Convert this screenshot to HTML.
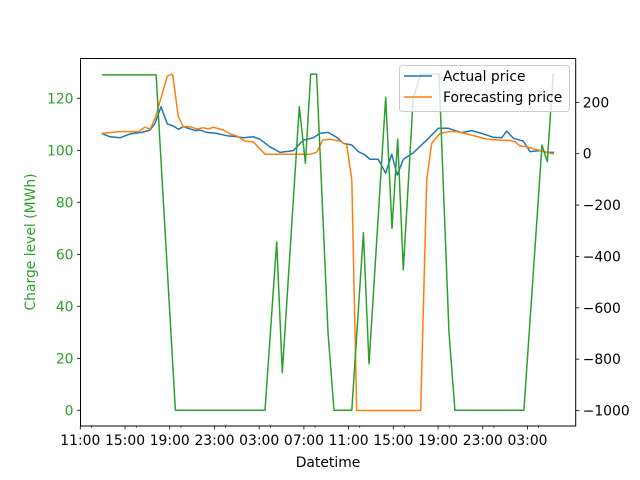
<!DOCTYPE html>
<html><head><meta charset="utf-8"><style>
body{margin:0;background:#fff;}
svg{display:block;font-family:"DejaVu Sans","Liberation Sans",sans-serif;}
</style></head><body>
<svg id="chart" width="640" height="480" viewBox="0 0 640 480">
<rect width="640" height="480" fill="#fff"/>
<g id="plot"></g>
</svg>
<script>
// hours since first 11:00 tick
const xTickLabels = ["11:00","15:00","19:00","23:00","03:00","07:00","11:00","15:00","19:00","23:00","03:00"];
const leftTicks = [0,20,40,60,80,100,120];
const rightTicks = [200,0,-200,-400,-600,-800,-1000];
const chargeTimes = [1.95,6.78,8.51,16.52,17.57,18.07,19.59,20.13,20.61,21.14,22.16,22.69,24.28,25.32,25.82,27.32,27.88,28.39,28.89,29.78,30.45,32.08,32.98,33.51,39.68,41.3,41.77,42.3];
const chargeValues = [129,129,0,0,64.8,14.5,116.8,95,129.3,129.3,30,0,0,68.3,17.8,120.4,70,104.3,54,120,129.3,129.3,30,0,0,102,95.6,129.6];
const actualTimes = [1.91,2.66,3.55,4.45,5.49,6.23,6.68,7.22,7.78,8.32,8.77,9.21,10.26,10.71,11.31,12.2,13.1,13.99,14.58,15.47,16.07,16.96,17.86,19.05,19.95,20.84,21.44,22.18,22.93,23.52,24.28,24.87,25.47,25.91,26.65,27.32,27.85,28.35,28.89,29.79,30.98,32.02,32.92,34.11,35.01,36.05,36.94,37.69,38.14,38.73,39.62,40.22,41.12,41.71,42.37];
const actualValues = [79,66,62,77,83,92,118,183,116,108,95,105,90,92,83,79,70,66,62,66,56,27,5,12,53,62,79,83,64,40,34,8,-5,-22,-22,-76,-2,-83,-22,4,53,99,99,82,90,77,64,62,88,60,49,8,12,5,5];
const forecastTimes = [1.91,2.66,3.52,5.19,5.79,6.24,6.69,7.78,8.26,8.77,9.21,9.81,10.41,11.0,11.45,11.9,12.79,13.39,13.99,14.73,15.47,16.52,20.55,21.14,21.68,22.33,23.23,23.83,24.28,24.72,30.45,30.98,31.43,32.18,33.07,33.67,34.56,35.3,36.35,37.54,38.43,38.88,39.33,39.77,42.37];
const forecastValues = [79,82,86,86,103,96,138,302,310,144,105,105,96,101,96,103,92,77,69,49,46,-2,-2,5,53,56,49,34,-102,-1000,-1000,-102,40,79,86,86,77,69,57,53,51,47,30,28,-2];

const NS="http://www.w3.org/2000/svg";
const L=80.5,R=575.7,T=58.5,B=426;
const xs=t=>80.3+11.18*t;
const yL=v=>410.3-2.6*v;
const yR=v=>153.7-0.2568*v;
const g=document.getElementById('plot');
function el(tag,attrs,parent){const e=document.createElementNS(NS,tag);for(const k in attrs)e.setAttribute(k,attrs[k]);(parent||g).appendChild(e);return e;}
function line(ts,vs,yf,color,name){
  const p=el('polyline',{points:ts.map((t,i)=>xs(t).toFixed(1)+','+yf(vs[i]).toFixed(1)).join(' '),fill:'none',stroke:color,'stroke-width':1.5,'stroke-linejoin':'round'});
  
  
}
line(actualTimes,actualValues,yR,'#1f77b4','actual-price-line');
line(forecastTimes,forecastValues,yR,'#ff7f0e','forecasting-price-line');
line(chargeTimes,chargeValues,yL,'#2ca02c','charge-level-line');
const fr=el('rect',{x:L,y:T,width:R-L,height:B-T,fill:'none',stroke:'#000','stroke-width':1});


xTickLabels.forEach((s,i)=>{
  const x=xs(i*4);
  el('line',{x1:x,x2:x,y1:B,y2:B+3.5,stroke:'#000','stroke-width':0.8});
  el('line',{x1:xs(i*4+1),x2:xs(i*4+1),y1:B,y2:B+2,stroke:'#000','stroke-width':0.6});
  const t=el('text',{x:x,y:B+19,'text-anchor':'middle','font-size':13.9,fill:'#000'});
  t.textContent=s;
  
  
});
leftTicks.forEach(v=>{
  const y=yL(v);
  el('line',{x1:L-3.5,x2:L,y1:y,y2:y,stroke:'#000','stroke-width':0.8});
  const t=el('text',{x:L-7,y:y+5,'text-anchor':'end','font-size':13.9,fill:'#2ca02c'});
  t.textContent=v;
  
  
});
rightTicks.forEach(v=>{
  const y=yR(v);
  el('line',{x1:R,x2:R+3.5,y1:y,y2:y,stroke:'#000','stroke-width':0.8});
  const t=el('text',{x:R+7,y:y+5,'text-anchor':'start','font-size':13.9,fill:'#000'});
  t.textContent=(v<0?'\u2212'+(-v):v);
  
  
});
</script>
<svg style="position:absolute;left:0;top:0" width="640" height="480">
<text x="328" y="467" text-anchor="middle" font-size="13.9" font-family="DejaVu Sans, sans-serif">Datetime</text>
<text transform="translate(35,242) rotate(-90)" text-anchor="middle" font-size="13.9" fill="#2ca02c" font-family="DejaVu Sans, sans-serif">Charge level (MWh)</text>
<text transform="translate(652,242) rotate(-90)" text-anchor="middle" font-size="13.9" fill="#000" font-family="DejaVu Sans, sans-serif">Price (€/MWh)</text>
<g>
<rect x="399.5" y="65.5" width="170" height="46" rx="3" fill="#fff" fill-opacity="0.8" stroke="#ccc"/>
<line x1="404" x2="432" y1="76" y2="76" stroke="#1f77b4" stroke-width="1.5"/>
<text x="443" y="81" font-size="13.9" font-family="DejaVu Sans, sans-serif">Actual price</text>
<line x1="404" x2="432" y1="97" y2="97" stroke="#ff7f0e" stroke-width="1.5"/>
<text x="443" y="102" font-size="13.9" font-family="DejaVu Sans, sans-serif">Forecasting price</text>
</g>
</svg>
</body></html>
